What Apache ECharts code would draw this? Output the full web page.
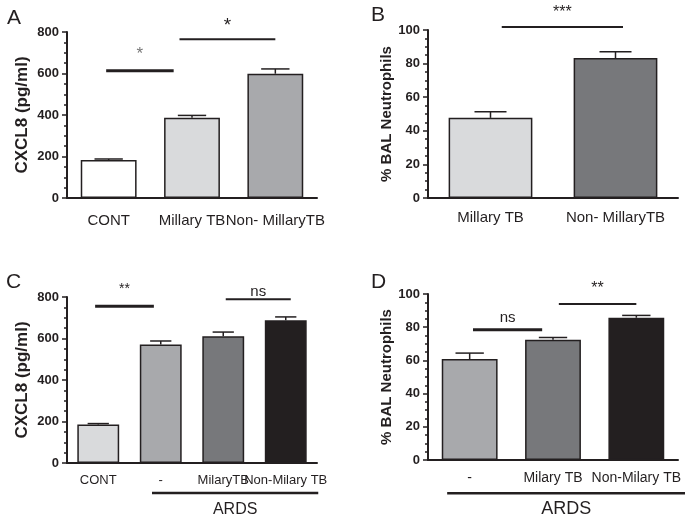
<!DOCTYPE html>
<html>
<head>
<meta charset="utf-8">
<script src="https://cdn.jsdelivr.net/npm/echarts@6/dist/echarts.min.js"></script>
<style>
	html, body { margin: 0; padding: 0; background: #fff; }
	#chart { width: 685px; height: 520px; }
</style>
</head>
<body>
<div id="chart"></div>
<script>
	// A: CXCL8 by group
	var catsA = ['CONT', 'Millary TB', 'Non- MillaryTB'];
	var meanA = [183, 387, 599];
	var semA = [5, 11, 23];
	// B: BAL neutrophils
	var catsB = ['Millary TB', 'Non- MillaryTB'];
	var meanB = [47.7, 83.3];
	var semB = [3.6, 3.7];
	// C: CXCL8, ARDS subgroups
	var catsC = ['CONT', '-', 'MilaryTB', 'Non-Milary TB'];
	var meanC = [185, 571, 611, 688];
	var semC = [5, 17, 20, 16];
	// D: BAL neutrophils, ARDS subgroups
	var catsD = ['-', 'Milary TB', 'Non-Milary TB'];
	var meanD = [60.8, 72.4, 85.7];
	var semD = [3.6, 1.4, 1.4];

	// significance bars: [from, to, y, text y] in category units / axis values
	var sigA = [[-0.03, 0.78, 613, 692], [0.85, 2.0, 765, 830]];
	var sigTextA = ['*', '*'];
	var sigB = [[0.09, 1.06, 101.8, 110.5]];
	var sigTextB = ['***'];
	var sigC = [[-0.05, 0.89, 755, 840], [2.04, 3.08, 789, 826]];
	var sigTextC = ['**', 'ns'];
	var sigD = [[0.04, 0.87, 78.5, 85.7], [1.07, 2.0, 94, 103.5]];
	var sigTextD = ['ns', '**'];
	// group bracket under the x axis
	var groupC = [[0.86, 3.52, -145, -223]];
	var groupD = [[-0.27, 2.59, -20, -29.6]];
	var groupText = ['ARDS'];

	var ink = '#231f20';
	var font = 'Liberation Sans, Arial, Helvetica, sans-serif';
	var white = '#ffffff', light = '#d9dadc', mid = '#a8a9ac', dark = '#77787b', black = '#231f20';

	var panels = [
		{cats: catsA, mean: meanA, sem: semA, colors: [white, light, mid], max: 800, step: 200,
			name: 'CXCL8 (pg/ml)', gap: 36, nameSize: 17, labelSize: 15, labelGap: 15,
			sig: sigA, sigText: sigTextA, sigWidth: [3, 2], sigSize: [17, 19], sigColor: ['#777', ink]},
		{cats: catsB, mean: meanB, sem: semB, colors: [light, dark], max: 100, step: 20,
			name: '% BAL Neutrophils', gap: 31, nameSize: 15, labelSize: 15, labelGap: 12,
			sig: sigB, sigText: sigTextB, sigWidth: [2], sigSize: [16], sigColor: [ink]},
		{cats: catsC, mean: meanC, sem: semC, colors: [light, mid, dark, black], max: 800, step: 200,
			name: 'CXCL8 (pg/ml)', gap: 36, nameSize: 17, labelSize: 13, labelGap: 11,
			sig: sigC, sigText: sigTextC, sigWidth: [3, 2], sigSize: [14, 15], sigColor: [ink, ink],
			group: groupC, groupSize: 16},
		{cats: catsD, mean: meanD, sem: semD, colors: [mid, dark, black], max: 100, step: 20,
			name: '% BAL Neutrophils', gap: 31, nameSize: 15, labelSize: 14, labelGap: 11,
			sig: sigD, sigText: sigTextD, sigWidth: [3, 2], sigSize: [15, 16], sigColor: [ink, ink],
			group: groupD, groupSize: 18}
	];

	var grids = [
		{left: 67, top: 32, width: 250, height: 166},
		{left: 428, top: 30, width: 250, height: 168},
		{left: 67, top: 297, width: 250, height: 166},
		{left: 428, top: 294, width: 250, height: 166}
	];

	function errorRender(params, api) {
		var base = api.coord([api.value(0), api.value(1)]);
		var top = api.coord([api.value(0), api.value(2)]);
		var half = Math.min(api.size([1, 0])[0] * 0.17, 16);
		var st = {stroke: ink, lineWidth: 1.5};
		return {
			type: 'group',
			children: [
				{type: 'line', shape: {x1: base[0], y1: base[1], x2: top[0], y2: top[1]}, style: st},
				{type: 'line', shape: {x1: top[0] - half, y1: top[1], x2: top[0] + half, y2: top[1]}, style: st}
			]
		};
	}

	function bracketRender(texts, widths, sizes, colors) {
		return function(params, api) {
			var i = params.dataIndex;
			var p0 = api.coord([api.value(0), api.value(2)]);
			var p1 = api.coord([api.value(1), api.value(2)]);
			var pt = api.coord([(api.value(0) + api.value(1)) / 2, api.value(3)]);
			return {
				type: 'group',
				children: [
					{type: 'line', shape: {x1: p0[0], y1: p0[1], x2: p1[0], y2: p1[1]},
						style: {stroke: ink, lineWidth: widths[i]}},
					{type: 'text', x: pt[0], y: pt[1],
						style: {text: texts[i], fill: colors[i], font: sizes[i] + 'px ' + font,
							align: 'center', verticalAlign: 'middle'}}
				]
			};
		};
	}

	var xAxes = [], yAxes = [], series = [];
	panels.forEach(function(p, i) {
		xAxes.push({
			type: 'category', gridIndex: i, data: p.cats,
			axisLine: {onZero: false, lineStyle: {color: ink, width: 2}},
			axisTick: {alignWithLabel: true, length: 5, lineStyle: {color: ink, width: 1.5}},
			axisLabel: {interval: 0, hideOverlap: false, color: ink, fontFamily: font,
				fontSize: p.labelSize, margin: p.labelGap}
		});
		yAxes.push({
			type: 'value', gridIndex: i, min: 0, max: p.max, interval: p.step,
			name: p.name, nameLocation: 'middle', nameGap: p.gap,
			nameTextStyle: {color: ink, fontFamily: font, fontWeight: 'bold', fontSize: p.nameSize},
			axisLine: {show: true, onZero: false, lineStyle: {color: ink, width: 2}},
			axisTick: {show: true, length: 5, lineStyle: {color: ink, width: 1.5}},
			minorTick: {show: true, splitNumber: 4, length: 3, lineStyle: {color: ink, width: 1.5}},
			splitLine: {show: false},
			axisLabel: {color: ink, fontFamily: font, fontWeight: 'bold', fontSize: 13, margin: 8}
		});
		series.push({
			type: 'bar', xAxisIndex: i, yAxisIndex: i, barWidth: '67%',
			itemStyle: {borderColor: ink, borderWidth: 1.5},
			data: p.mean.map(function(v, k) {
				return {value: v, itemStyle: {color: p.colors[k]}};
			}),
			z: 2
		});
		series.push({
			type: 'custom', xAxisIndex: i, yAxisIndex: i, renderItem: errorRender, clip: false, z: 3,
			data: p.mean.map(function(v, k) { return [k, v, v + p.sem[k]]; })
		});
	});
	// hidden value x axes for the brackets
	panels.forEach(function(p, i) {
		xAxes.push({type: 'value', gridIndex: i, min: -0.5, max: p.cats.length - 0.5, show: false});
		series.push({
			type: 'custom', xAxisIndex: 4 + i, yAxisIndex: i, clip: false, z: 4,
			renderItem: bracketRender(p.sigText, p.sigWidth, p.sigSize, p.sigColor),
			data: p.sig
		});
		if (p.group) {
			series.push({
				type: 'custom', xAxisIndex: 4 + i, yAxisIndex: i, clip: false, z: 4,
				renderItem: bracketRender(groupText, [2.5], [p.groupSize], [ink]),
				data: p.group
			});
		}
	});

	var option = {
		animation: false,
		backgroundColor: '#fff',
		title: [
			{text: 'A', left: 2, top: 3},
			{text: 'B', left: 366, top: 0},
			{text: 'C', left: 1, top: 267},
			{text: 'D', left: 366, top: 267}
		].map(function(t) {
			t.textStyle = {color: ink, fontFamily: font, fontWeight: 'normal', fontSize: 21};
			return t;
		}),
		grid: grids.map(function(g) { g.outerBoundsMode = 'none'; return g; }),
		xAxis: xAxes,
		yAxis: yAxes,
		series: series
	};

	var myChart = echarts.init(document.getElementById('chart'));
	myChart.setOption(option);
</script>
</body>
</html>
